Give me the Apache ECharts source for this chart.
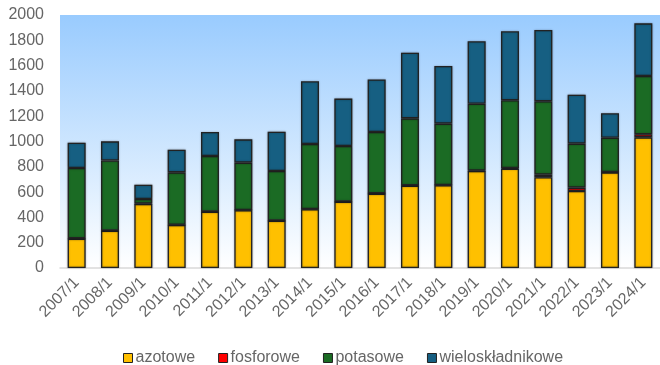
<!DOCTYPE html>
<html>
<head>
<meta charset="utf-8">
<script src="https://cdn.jsdelivr.net/npm/echarts@6/dist/echarts.min.js"></script>
<style>
  html, body { margin: 0; padding: 0; background: #ffffff; }
  #chart { width: 660px; height: 365px; }
</style>
</head>
<body>
<div id="chart"></div>
<script>
// Fertilizer consumption by type, first month of each year
var categories = ['2007/1','2008/1','2009/1','2010/1','2011/1','2012/1','2013/1','2014/1','2015/1',
                  '2016/1','2017/1','2018/1','2019/1','2020/1','2021/1','2022/1','2023/1','2024/1'];
var azotowe          = [232, 295, 506, 340, 445, 456, 374, 464, 524, 588, 651, 654, 767, 785, 717, 609, 756, 1033];
var fosforowe        = [2, 2, 3, 2, 2, 2, 2, 2, 2, 2, 2, 2, 3, 5, 21, 26, 2, 24];
var potasowe         = [556, 553, 37, 414, 438, 375, 391, 514, 438, 485, 530, 485, 529, 536, 580, 348, 272, 461];
var wieloskladnikowe = [200, 151, 113, 179, 190, 184, 311, 496, 375, 416, 519, 456, 493, 545, 563, 387, 193, 416];
var yTicks = { min: 0, max: 2000, step: 200 };

var FONT = "'Liberation Sans', Arial, sans-serif";
var GREY = '#666666';

function stackSeries(name, data, color) {
  return {
    name: name,
    type: 'bar',
    stack: 'total',
    data: data,
    barWidth: 18,
    itemStyle: {
      color: color,
      borderColor: '#222222',
      borderWidth: 1.3,
      shadowColor: 'rgba(0,0,0,0.3)',
      shadowBlur: 2
    },
    emphasis: { disabled: true }
  };
}

var chart = echarts.init(document.getElementById('chart'), null, { renderer: 'canvas' });
chart.setOption({
  animation: false,
  grid: {
    left: 60, top: 15, width: 606, height: 253,
    show: true,
    borderWidth: 0,
    backgroundColor: new echarts.graphic.LinearGradient(0, 0, 0, 1, [
      { offset: 0, color: '#99cbfe' },
      { offset: 1, color: '#ffffff' }
    ])
  },
  legend: {
    left: 118, top: 345,
    itemWidth: 9, itemHeight: 9, itemGap: 23,
    icon: 'rect',
    itemStyle: { borderColor: '#222222', borderWidth: 1 },
    textStyle: { fontFamily: FONT, fontSize: 16, color: GREY, padding: [0, 0, 0, -2] }
  },
  xAxis: {
    type: 'category',
    data: categories,
    axisLine: { lineStyle: { color: '#d9d9d9', width: 1.5 } },
    axisTick: { show: false },
    axisLabel: {
      rotate: 45, interval: 0, margin: 12,
      fontFamily: FONT, fontSize: 16, color: GREY
    }
  },
  yAxis: {
    type: 'value',
    min: yTicks.min, max: yTicks.max, interval: yTicks.step,
    splitLine: { show: false },
    axisLine: { show: false },
    axisTick: { show: false },
    axisLabel: {
      margin: 16, fontFamily: FONT, fontSize: 16, color: GREY,
      formatter: function (v) { return String(v); }
    }
  },
  series: [
    stackSeries('azotowe', azotowe, '#ffc000'),
    stackSeries('fosforowe', fosforowe, '#ff0000'),
    stackSeries('potasowe', potasowe, '#1b6b24'),
    stackSeries('wieloskładnikowe', wieloskladnikowe, '#165f82')
  ]
});
</script>
</body>
</html>
